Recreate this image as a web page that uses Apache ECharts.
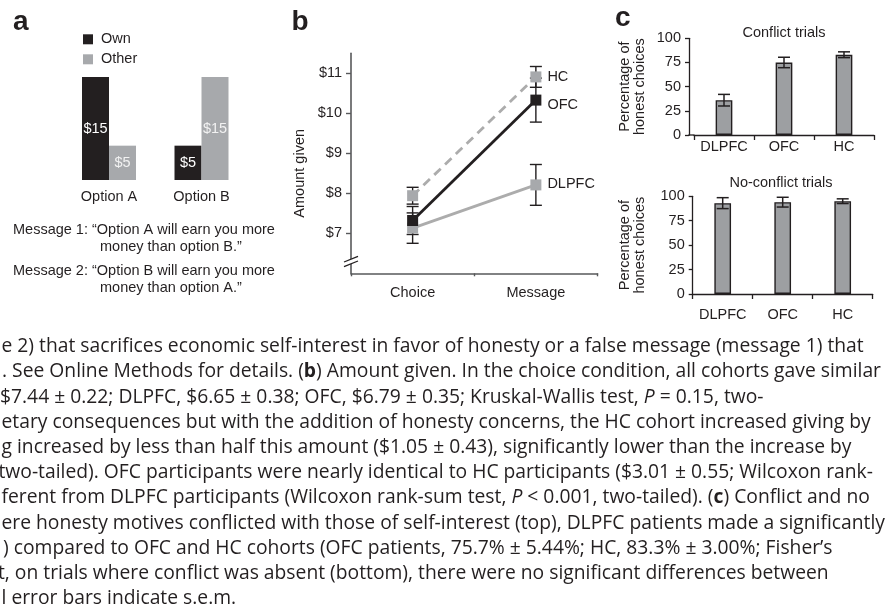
<!DOCTYPE html>
<html><head><meta charset="utf-8">
<script src="https://cdn.jsdelivr.net/npm/echarts@6/dist/echarts.min.js"></script>
<style>html,body{margin:0;padding:0;background:#fff;}#c{width:887px;height:610px;}</style>
</head><body><div id="c"></div>
<script>
// ---------- DATA ----------
// Panel a
const aCategories = ['Option A', 'Option B'];
const aOwn = [15, 5];
const aOther = [5, 15];
const aLegend = ['Own', 'Other'];
const aMessages = [
  'Message 1: \u201cOption A will earn you more',
  'money than option B.\u201d',
  'Message 2: \u201cOption B will earn you more',
  'money than option A.\u201d'
];
// Panel b
const bCategories = ['Choice', 'Message'];
const bYTicks = [7, 8, 9, 10, 11];
const bHC = [7.94, 10.91];
const bHCErr = [0.21, 0.26];
const bOFC = [7.32, 10.33];
const bOFCErr = [0.35, 0.55];
const bDLPFC = [7.13, 8.21];
const bDLPFCErr = [0.38, 0.51];
// Panel c
const cCategories = ['DLPFC', 'OFC', 'HC'];
const cYTicks = [0, 25, 50, 75, 100];
const cConflict = [36, 75, 83];
const cConflictErr = [6, 5.4, 3];
const cNoConflict = [93, 94, 95];
const cNoConflictErr = [5.6, 5, 2.4];
// Caption text
const captionLines = [
  'e 2) that sacrifices economic self-interest in favor of honesty or a false message (message 1) that',
  '. See Online Methods for details. ({b|b}) Amount given. In the choice condition, all cohorts gave similar',
  '$7.44 \u00b1 0.22; DLPFC, $6.65 \u00b1 0.38; OFC, $6.79 \u00b1 0.35; Kruskal-Wallis test, {i|P} = 0.15, two-',
  'etary consequences but with the addition of honesty concerns, the HC cohort increased giving by',
  'g increased by less than half this amount ($1.05 \u00b1 0.43), significantly lower than the increase by',
  'two-tailed). OFC participants were nearly identical to HC participants ($3.01 \u00b1 0.55; Wilcoxon rank-',
  'ferent from DLPFC participants (Wilcoxon rank-sum test, {i|P} < 0.001, two-tailed). ({b|c}) Conflict and no',
  'ere honesty motives conflicted with those of self-interest (top), DLPFC patients made a significantly',
  ') compared to OFC and HC cohorts (OFC patients, 75.7% \u00b1 5.44%; HC, 83.3% \u00b1 3.00%; Fisher\u2019s',
  't, on trials where conflict was absent (bottom), there were no significant differences between',
  'l error bars indicate s.e.m.'
];

// ---------- LAYOUT / STYLE ----------
const FONT = "'Liberation Sans', Arial, Helvetica, sans-serif";
const CAPFONT = "'Open Sans', 'Noto Sans', sans-serif";
const CAPFS = 19.3;
const TXT = '#231f20';
const DARK = '#231f20';
const GRAY = '#a7a9ac';
const FS = 14.5;
const capX = [1.5, 2, 0, 1.5, 1.5, -1.5, 1.5, 1.5, 3, -2, 1.5];

const chart = echarts.init(document.getElementById('c'), null, {renderer: 'canvas'});

function errRender(cap, color, width) {
  return function (params, api) {
    const x = api.value(0), y = api.value(1), e = api.value(2);
    const hi = api.coord([x, y + e]);
    const lo = api.coord([x, y - e]);
    const style = {stroke: color, lineWidth: width, fill: null};
    return {type: 'group', children: [
      {type: 'line', shape: {x1: hi[0], y1: hi[1], x2: lo[0], y2: lo[1]}, style: style},
      {type: 'line', shape: {x1: hi[0] - cap, y1: hi[1], x2: hi[0] + cap, y2: hi[1]}, style: style},
      {type: 'line', shape: {x1: lo[0] - cap, y1: lo[1], x2: lo[0] + cap, y2: lo[1]}, style: style}
    ]};
  };
}
function errData(vals, errs) { return vals.map((v, i) => [i, v, errs[i]]); }
function lineData(vals, name, offY) {
  return vals.map((v, i) => i === vals.length - 1 ? {
    value: v,
    label: {show: true, position: 'right', distance: 6, formatter: name, offset: [0, offY],
      fontSize: FS, fontFamily: FONT, color: TXT}
  } : v);
}

const catLabel = {fontSize: FS, fontFamily: FONT, color: TXT, interval: 0, hideOverlap: false};

const option = {
  animation: false,
  backgroundColor: '#fff',
  textStyle: {fontFamily: FONT, color: TXT},
  legend: {
    data: aLegend, orient: 'vertical', left: 78, top: 26.8, itemWidth: 10, itemHeight: 10, itemGap: 5,
    icon: 'rect', selectedMode: false,
    textStyle: {fontSize: FS, fontFamily: FONT, color: TXT, lineHeight: 14, padding: [0, 0, 0, 3]}
  },
  grid: [
    {left: 62.75, top: 77, width: 185, height: 103},
    {left: 351, top: 53.3, width: 246.5, height: 220},
    {left: 694, top: 38.3, width: 180, height: 96.7},
    {left: 692.7, top: 196.3, width: 180, height: 97.7}
  ],
  xAxis: [
    {type: 'category', gridIndex: 0, data: aCategories, axisLine: {show: false}, axisTick: {show: false},
      axisLabel: Object.assign({margin: 9}, catLabel)},
    {type: 'category', gridIndex: 1, data: bCategories, boundaryGap: true,
      axisLine: {lineStyle: {color: '#58595b', width: 1.6}},
      axisTick: {show: true, length: 3, interval: 0, lineStyle: {color: '#58595b', width: 1.4}},
      axisLabel: Object.assign({margin: 12}, catLabel)},
    {type: 'category', gridIndex: 2, data: cCategories,
      axisLine: {lineStyle: {color: DARK, width: 1.3}},
      axisTick: {show: true, length: 5, interval: 0, lineStyle: {color: DARK, width: 1.3}},
      axisLabel: Object.assign({margin: 4}, catLabel)},
    {type: 'category', gridIndex: 3, data: cCategories,
      axisLine: {lineStyle: {color: DARK, width: 1.3}},
      axisTick: {show: true, length: 5, interval: 0, lineStyle: {color: DARK, width: 1.3}},
      axisLabel: Object.assign({margin: 13}, catLabel)}
  ],
  yAxis: [
    {type: 'value', gridIndex: 0, min: 0, max: 15, show: false},
    {type: 'value', gridIndex: 1, min: 6, max: 11.5,
      name: 'Amount given', nameLocation: 'middle', nameRotate: 90, nameGap: 44,
      nameTextStyle: {fontSize: FS, fontFamily: FONT, color: TXT, padding: [0, 20, 0, 0]},
      axisLine: {show: true, lineStyle: {color: '#58595b', width: 1.6}},
      axisTick: {show: true, length: 5, customValues: bYTicks, lineStyle: {color: '#58595b', width: 1.4}},
      axisLabel: {customValues: bYTicks, formatter: v => '$' + v, margin: 9, fontSize: FS, fontFamily: FONT, color: TXT},
      splitLine: {show: false}},
    {type: 'value', gridIndex: 2, min: 0, max: 100, interval: 25, offset: 5,
      name: 'Percentage of\nhonest choices', nameLocation: 'middle', nameRotate: 90, nameGap: 42,
      nameTextStyle: {fontSize: FS, fontFamily: FONT, color: TXT, lineHeight: 15},
      axisLine: {show: true, lineStyle: {color: DARK, width: 1.3}},
      axisTick: {show: true, length: 4, lineStyle: {color: DARK, width: 1.3}},
      axisLabel: {margin: 8, fontSize: FS, fontFamily: FONT, color: TXT, customValues: cYTicks},
      splitLine: {show: false}},
    {type: 'value', gridIndex: 3, min: 0, max: 100, interval: 25,
      name: 'Percentage of\nhonest choices', nameLocation: 'middle', nameRotate: 90, nameGap: 45,
      nameTextStyle: {fontSize: FS, fontFamily: FONT, color: TXT, lineHeight: 15},
      axisLine: {show: true, lineStyle: {color: DARK, width: 1.3}},
      axisTick: {show: true, length: 4, lineStyle: {color: DARK, width: 1.3}},
      axisLabel: {margin: 8, fontSize: FS, fontFamily: FONT, color: TXT, customValues: cYTicks},
      splitLine: {show: false}}
  ],
  series: [
    // panel a
    {name: 'Own', type: 'bar', xAxisIndex: 0, yAxisIndex: 0, data: aOwn, barWidth: 27, barGap: '0%',
      itemStyle: {color: DARK},
      label: {show: true, position: 'inside', formatter: p => '$' + p.value, color: '#ffffff', fontSize: FS, fontFamily: FONT}},
    {name: 'Other', type: 'bar', xAxisIndex: 0, yAxisIndex: 0, data: aOther, barWidth: 27, barGap: '0%',
      itemStyle: {color: GRAY},
      label: {show: true, position: 'inside', formatter: p => '$' + p.value, color: '#f2f2f2', fontSize: FS, fontFamily: FONT}},
    // panel b error bars
    {type: 'custom', xAxisIndex: 1, yAxisIndex: 1, renderItem: errRender(6, DARK, 1.4), data: errData(bDLPFC, bDLPFCErr), encode: {x: 0, y: 1}, z: 2},
    {type: 'custom', xAxisIndex: 1, yAxisIndex: 1, renderItem: errRender(6, DARK, 1.4), data: errData(bOFC, bOFCErr), encode: {x: 0, y: 1}, z: 2},
    {type: 'custom', xAxisIndex: 1, yAxisIndex: 1, renderItem: errRender(6, DARK, 1.4), data: errData(bHC, bHCErr), encode: {x: 0, y: 1}, z: 2},
    // panel b lines
    {name: 'DLPFC', type: 'line', xAxisIndex: 1, yAxisIndex: 1, data: lineData(bDLPFC, 'DLPFC', -1), z: 3,
      symbol: 'rect', symbolSize: 11, lineStyle: {color: '#acacac', width: 2.8}, itemStyle: {color: GRAY}},
    {name: 'HC', type: 'line', xAxisIndex: 1, yAxisIndex: 1, data: lineData(bHC, 'HC', 0), z: 3,
      symbol: 'rect', symbolSize: 11, lineStyle: {color: '#acacac', width: 2.8, type: [9, 6]}, itemStyle: {color: GRAY}},
    {name: 'OFC', type: 'line', xAxisIndex: 1, yAxisIndex: 1, data: lineData(bOFC, 'OFC', 5), z: 3,
      symbol: 'rect', symbolSize: 11, lineStyle: {color: DARK, width: 2.8}, itemStyle: {color: DARK}},
    // panel c top
    {type: 'bar', xAxisIndex: 2, yAxisIndex: 2, data: cConflict, barWidth: 16.7,
      itemStyle: {color: '#9d9fa2', borderColor: DARK, borderWidth: 1.4}},
    {type: 'custom', xAxisIndex: 2, yAxisIndex: 2, renderItem: errRender(6, DARK, 1.5), data: errData(cConflict, cConflictErr), encode: {x: 0, y: 1}, z: 3},
    // panel c bottom
    {type: 'bar', xAxisIndex: 3, yAxisIndex: 3, data: cNoConflict, barWidth: 16.7,
      itemStyle: {color: '#9d9fa2', borderColor: DARK, borderWidth: 1.4}},
    {type: 'custom', xAxisIndex: 3, yAxisIndex: 3, renderItem: errRender(6, DARK, 1.5), data: errData(cNoConflict, cNoConflictErr), encode: {x: 0, y: 1}, z: 3}
  ]
};
chart.setOption(option);

// ---------- TEXT / DECORATION GRAPHICS ----------
const g = [];
function txt(text, x, y, opts) {
  g.push({type: 'text', x: x, y: y, z: 100, silent: true,
    style: Object.assign({text: text, fontSize: FS, fontFamily: FONT, fill: TXT, align: 'left', verticalAlign: 'middle'}, opts || {})});
}
// panel letters (top-aligned boxes)
txt('a', 13, 8, {fontSize: 28, fontWeight: 'bold', verticalAlign: 'top'});
txt('b', 291.5, 8.5, {fontSize: 28, fontWeight: 'bold', verticalAlign: 'top'});
txt('c', 615, 4, {fontSize: 28, fontWeight: 'bold', verticalAlign: 'top'});
// panel a message texts
const msgPos = [[13, 230], [100, 246.5], [13, 271], [100, 288]];
aMessages.forEach((m, i) => txt(m, msgPos[i][0], msgPos[i][1]));
// panel c titles
txt('Conflict trials', 784, 33.3, {align: 'center'});
txt('No-conflict trials', 781, 183.3, {align: 'center'});
// caption
captionLines.forEach((line, i) => {
  txt(line, capX[i], 346.7 + i * 25.2, {
    fontSize: CAPFS, fontFamily: CAPFONT, fill: TXT,
    rich: {
      b: {fontSize: CAPFS, fontFamily: CAPFONT, fontWeight: 'bold', fill: TXT},
      i: {fontSize: CAPFS, fontFamily: CAPFONT, fontStyle: 'italic', fill: TXT}
    }
  });
});
// axis break mark on panel b y axis
const by = chart.convertToPixel({yAxisIndex: 1}, 6.3);
const bx = 351;
g.push({type: 'polygon', z: 100, silent: true,
  shape: {points: [[bx - 7, by + 0.7], [bx + 7, by - 5], [bx + 7, by - 0.3], [bx - 7, by + 5.3]]},
  style: {fill: '#fff'}});
g.push({type: 'line', z: 101, silent: true, shape: {x1: bx - 7, y1: by + 0.7, x2: bx + 7, y2: by - 5}, style: {stroke: DARK, lineWidth: 1.3}});
g.push({type: 'line', z: 101, silent: true, shape: {x1: bx - 7, y1: by + 5.3, x2: bx + 7, y2: by - 0.3}, style: {stroke: DARK, lineWidth: 1.3}});
// extend top panel c x-axis line to its offset y axis
const cy0 = chart.convertToPixel({yAxisIndex: 2}, 0);
g.push({type: 'line', z: 50, silent: true, shape: {x1: 688.4, y1: cy0, x2: 694.5, y2: cy0}, style: {stroke: DARK, lineWidth: 1.3}});

chart.setOption({graphic: g});
</script>
</body></html>
